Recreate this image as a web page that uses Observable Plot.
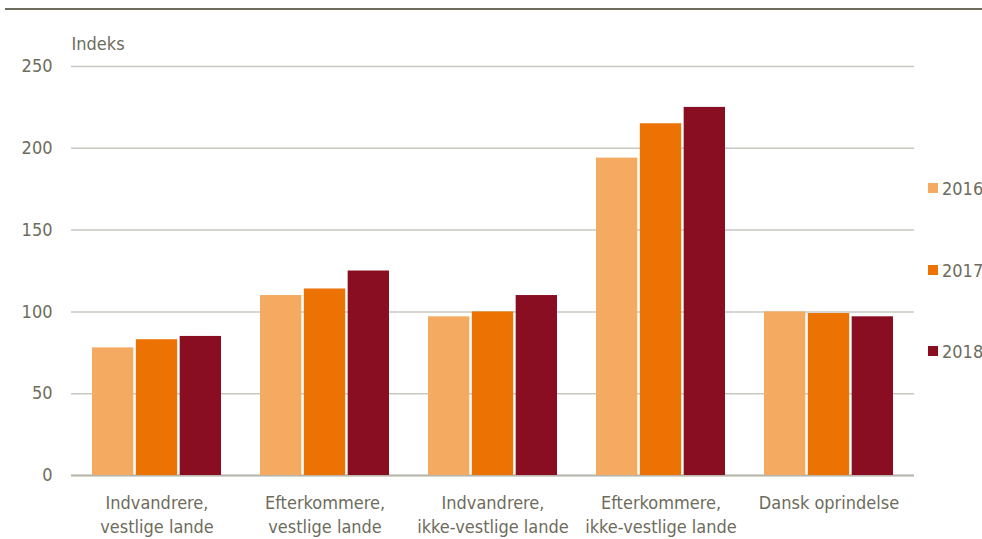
<!DOCTYPE html>
<html>
<head>
<meta charset="utf-8">
<script src="https://cdn.jsdelivr.net/npm/d3@7"></script>
<script src="https://cdn.jsdelivr.net/npm/@observablehq/plot@0.6"></script>
<style>
  html, body { margin: 0; padding: 0; background: #fff; }
  #wrap { position: relative; width: 982px; height: 539px; overflow: hidden; }
  #rule { position: absolute; left: 5px; right: 0; top: 8px; height: 2px; background: #6e6c5c; }
  #legend { position: absolute; left: 928px; top: 0; }
  .sw { position: absolute; left: 0; display: flex; align-items: center; color: #6e6c5c; white-space: nowrap; }
  .sw i { display: inline-block; width: 10px; height: 10px; margin-right: 4px; flex: none; }
  svg { display: block; }
</style>
</head>
<body>
<div id="wrap">
  <div id="rule"></div>
  <div id="chart"></div>
  <div id="legend"></div>
</div>
<script>
const categories = [
  "Indvandrere,\nvestlige lande",
  "Efterkommere,\nvestlige lande",
  "Indvandrere,\nikke-vestlige lande",
  "Efterkommere,\nikke-vestlige lande",
  "Dansk oprindelse"
];
const years = ["2016", "2017", "2018"];
const values2016 = [78, 110, 97, 194, 100];
const values2017 = [83, 114, 100, 215, 99];
const values2018 = [85, 125, 110, 225, 97];
const colors = ["#f5aa62", "#ec7204", "#8a0e22"];
const yTicks = [0, 50, 100, 150, 200, 250];
const yLabel = "Indeks";

// pick a condensed font if one is installed
function available(name) {
  const c = document.createElement("canvas").getContext("2d");
  const probe = "Efterkommere, ikke-vestlige lande 0123456789";
  return ["monospace", "serif"].every(fb => {
    c.font = `40px ${fb}`;
    const w0 = c.measureText(probe).width;
    c.font = `40px "${name}", ${fb}`;
    return Math.abs(c.measureText(probe).width - w0) > 0.5;
  });
}
let font, fsize;
if (available("Liberation Sans Narrow")) { font = '"Liberation Sans Narrow", sans-serif'; fsize = 22; }
else if (available("DejaVu Sans Condensed")) { font = '"DejaVu Sans Condensed", sans-serif'; fsize = 18; }
else { font = '"Liberation Sans", Arial, sans-serif'; fsize = 18.5; }

const series = [values2016, values2017, values2018];
const data = [];
categories.forEach((c, i) => {
  years.forEach((yr, j) => data.push({category: c, year: yr, value: series[j][i]}));
});

const W = 982, H = 539, mL = 71, mR = 68, mT = 66, mB = 64;
const padIn = 0.22, padOut = 0.11;
const bw = Plot.scale({x: {type: "band", domain: categories, paddingInner: padIn, paddingOuter: padOut, range: [mL, W - mR]}}).bandwidth;
const third = bw / years.length;

const textColor = "#6e6c5c";

const chart = Plot.plot({
  width: W,
  height: H,
  marginLeft: mL,
  marginRight: mR,
  marginTop: mT,
  marginBottom: mB,
  style: {fontFamily: font, fontSize: fsize + "px", color: textColor, background: "transparent"},
  x: {domain: categories, paddingInner: padIn, paddingOuter: padOut, label: null},
  y: {domain: [0, 250], ticks: yTicks, label: null},
  color: {domain: years, range: colors},
  marks: [
    Plot.gridY(yTicks, {stroke: "#c9c8c0", strokeOpacity: 1, strokeWidth: 1.5}),
    Plot.ruleY([0], {stroke: "#b8b7ae", strokeWidth: 2}),
    Plot.axisY({ticks: yTicks, tickSize: 0, tickPadding: 19, fontSize: fsize, fill: textColor, label: null}),
    Plot.axisX({anchor: "bottom", tickSize: 0, tickPadding: 16, fontSize: fsize, fill: textColor, lineHeight: 1.35, label: null}),
    ...years.map((yr, j) => Plot.barY(data.filter(d => d.year === yr), {
      x: "category", y: "value", fill: "year",
      insetLeft: j * third + 1, insetRight: (years.length - 1 - j) * third + 1
    })),
    Plot.text([yLabel], {frameAnchor: "top-left", lineAnchor: "middle", dy: -22, textAnchor: "start", fill: textColor, fontSize: fsize})
  ]
});
document.getElementById("chart").appendChild(chart);

const legend = document.getElementById("legend");
const legendTops = [188, 270, 351];
years.forEach((yr, j) => {
  const d = document.createElement("div");
  d.className = "sw";
  d.style.top = (legendTops[j] - 13) + "px";
  d.style.height = "26px";
  d.style.fontFamily = font;
  d.style.fontSize = fsize + "px";
  d.innerHTML = `<i style="background:${colors[j]}"></i>${yr}`;
  legend.appendChild(d);
});
</script>
</body>
</html>
